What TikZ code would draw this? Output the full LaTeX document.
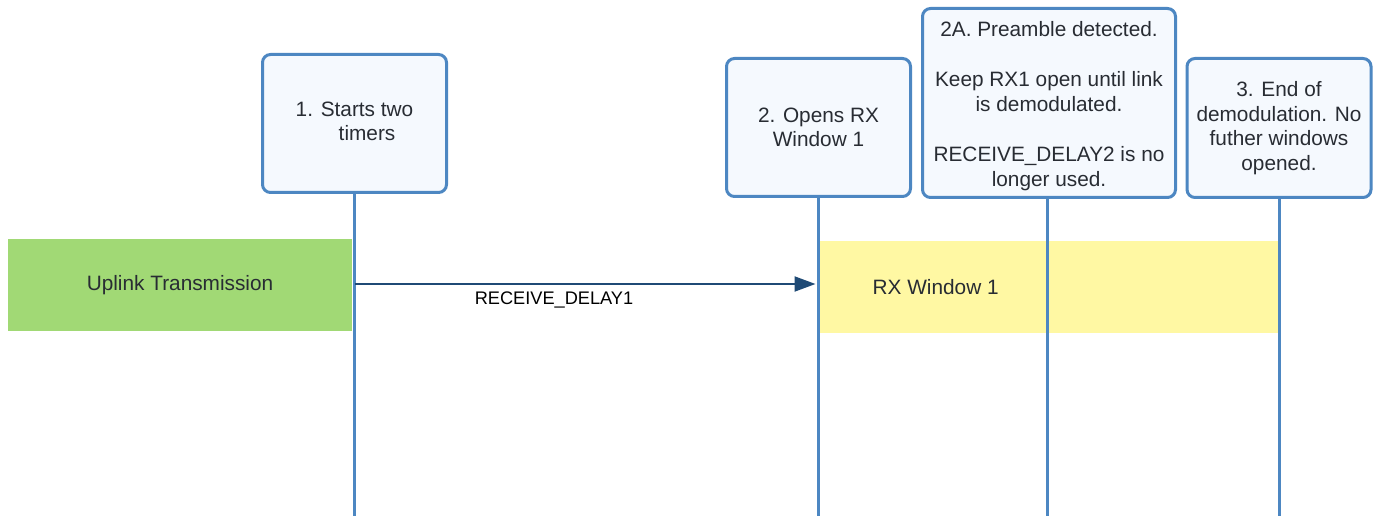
\documentclass[tikz,border=0pt]{standalone}
\usepackage{fontspec}
\setmainfont{Liberation Sans}
\usetikzlibrary{positioning,arrows.meta}
\definecolor{laneblue}{HTML}{4D87C2}
\definecolor{boxfill}{HTML}{F5F9FE}
\definecolor{upgreen}{HTML}{A1D975}
\definecolor{rxyellow}{HTML}{FFF8A3}
\definecolor{arrownavy}{HTML}{1F4A75}
\definecolor{inkgray}{HTML}{282C33}

\begin{document}
\begin{tikzpicture}[x=0.5pt,y=-0.5pt,
box/.style={draw=laneblue,line width=1.5pt,fill=boxfill,rounded corners=4pt,
    minimum width=92pt,minimum height=69pt,align=center,text=inkgray,
    font=\fontsize{10.4}{12.25}\selectfont},
band/.style={minimum height=46pt,inner sep=0pt,text=inkgray,
    font=\fontsize{10.4}{12.25}\selectfont},
lifeline/.style={draw=laneblue,line width=1.5pt},
msg/.style={draw=arrownavy,line width=1pt,shorten >=1.5pt,
    -{Triangle[length=10.5pt,width=7.5pt]}}]
\useasboundingbox (0,0) rectangle (1374,518);

% timing bars
\node (uplink) [band,fill=upgreen,minimum width=172pt] at (180,285) {Uplink Transmission};
\node (rxwin) [band,fill=rxyellow,minimum width=230pt] at (1048,287) {};
\node (rxtext) [right=24pt of rxwin.west,text=inkgray,
    font=\fontsize{10.4}{12.25}\selectfont] {RX Window 1};

% events
\node (timers) [box] at (354.5,123.5)
    {1. \begin{tabular}[t]{@{}c@{}}Starts two\\timers\end{tabular}};
\node (rxopen) [box] at (818.5,127.5) {2. Opens RX\\Window 1};
\node (preamble) [box,
    minimum width=126.5pt,
    minimum height=94.5pt] at (1049,103)
    {\rule{0pt}{10.6pt}2A. Preamble detected.\\[13pt]Keep RX1 open until link\\is demodulated.\\[13pt]RECEIVE\_DELAY2 is no\\longer used.};
\node (demodend) [box,minimum height=69.5pt] at (1279,128)
    {3. End of\\demodulation. No\\futher windows\\opened.};

\draw [lifeline] (timers.south) -- (timers.south |- 0,516);
\draw [lifeline] (rxopen.south) -- (rxopen.south |- 0,516);
\draw [lifeline] ([xshift=-1pt]preamble.south) -- ([xshift=-1pt]preamble.south |- 0,516);
\draw [lifeline] (demodend.south) -- (demodend.south |- 0,516);

\draw [msg] (timers.south |- 0,284) -- node (delay1) [pos=.43,below,text=black,
    font=\fontsize{9.1}{11}\selectfont] {RECEIVE\_DELAY1} (rxopen.south |- 0,284);
\end{tikzpicture}
\end{document}
